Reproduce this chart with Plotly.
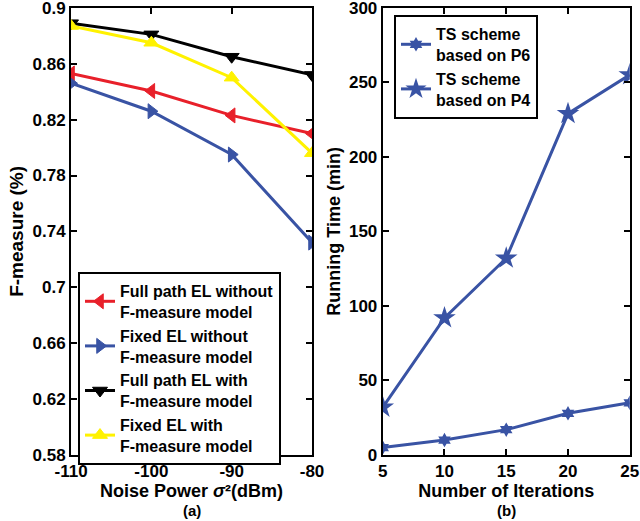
import plotly.graph_objects as go

# (a) F-measure vs noise power
noise_dbm = [-110, -100, -90, -80]
noise_labels = ['-110', '-100', '-90', '-80']
full_path_without = [0.853, 0.8405, 0.823, 0.810]
fixed_without = [0.846, 0.826, 0.795, 0.732]
full_path_with = [0.889, 0.881, 0.865, 0.852]
fixed_with = [0.887, 0.875, 0.850, 0.796]
f_ticks = [0.58, 0.62, 0.66, 0.70, 0.74, 0.78, 0.82, 0.86, 0.90]
f_tick_labels = ['0.58', '0.62', '0.66', '0.7', '0.74', '0.78', '0.82', '0.86', '0.9']

# (b) running time vs iterations
iterations = [5, 10, 15, 20, 25]
time_p6 = [5, 10, 17, 28, 35]
time_p4 = [32, 92, 132, 229, 255]
time_ticks = [0, 50, 100, 150, 200, 250, 300]

RED = '#E8202A'
BLUE = '#3953A4'
BLACK = '#000000'
YELLOW = '#FFF200'
FONT = 'Liberation Sans'

fig = go.Figure()

series_a = [
    (full_path_without, 'Full path EL without<br>F-measure model', RED, 'triangle-left'),
    (fixed_without, 'Fixed EL without<br>F-measure model', BLUE, 'triangle-right'),
    (full_path_with, 'Full path EL with<br>F-measure model', BLACK, 'triangle-down'),
    (fixed_with, 'Fixed EL with<br>F-measure model', YELLOW, 'triangle-up'),
]
for vals, name, col, sym in series_a:
    fig.add_trace(go.Scatter(
        x=noise_dbm, y=vals, name=name, mode='lines+markers',
        line=dict(color=col, width=3),
        marker=dict(symbol=sym, size=13, color=col, line=dict(color=col, width=1)),
        xaxis='x', yaxis='y', legend='legend'
    ))

fig.add_trace(go.Scatter(
    x=iterations, y=time_p6, name='TS scheme<br>based on P6', mode='lines+markers',
    line=dict(color=BLUE, width=3),
    marker=dict(symbol='hexagram', size=11, color=BLUE),
    xaxis='x2', yaxis='y2', legend='legend2'
))
fig.add_trace(go.Scatter(
    x=iterations, y=time_p4, name='TS scheme<br>based on P4', mode='lines+markers',
    line=dict(color=BLUE, width=3),
    marker=dict(symbol='star', size=17, color=BLUE),
    xaxis='x2', yaxis='y2', legend='legend2'
))

axis_common = dict(
    showline=True, linecolor='black', linewidth=2, mirror='allticks',
    ticks='inside', ticklen=6, tickcolor='black', tickwidth=1.5,
    showgrid=False, zeroline=False, automargin=False,
    ticklabeloverflow='allow',
    tickfont=dict(family=FONT, size=17, color='black', weight='bold'),
)

legend_common = dict(
    bgcolor='white', bordercolor='black', borderwidth=2,
    font=dict(family=FONT, size=16, color='black', weight='bold'),
    tracegroupgap=0, xanchor='left', yanchor='top',
)

fig.update_layout(
    width=640, height=521,
    margin=dict(l=0, r=0, t=0, b=0),
    paper_bgcolor='white', plot_bgcolor='white',
    font=dict(family=FONT, color='black'),
    xaxis=dict(domain=[0.111, 0.4875], range=[-110, -80], tickvals=noise_dbm,
               ticktext=noise_labels,
               title=dict(text='<b>Noise Power <i>σ</i>²(dBm)</b>',
                          font=dict(size=18), standoff=2),
               anchor='y', **axis_common),
    yaxis=dict(domain=[0.1267, 0.985], range=[0.58, 0.9], tickvals=f_ticks,
               ticktext=f_tick_labels,
               title=dict(text='<b>F-measure (%)</b>', font=dict(size=19), standoff=4),
               anchor='x', **axis_common),
    xaxis2=dict(domain=[0.598, 0.984], range=[5, 25], tickvals=iterations,
                title=dict(text='<b>Number of Iterations</b>', font=dict(size=18), standoff=2),
                anchor='y2', **axis_common),
    yaxis2=dict(domain=[0.1267, 0.985], range=[0, 300], tickvals=time_ticks,
                title=dict(text='<b>Running Time (min)</b>', font=dict(size=18), standoff=4),
                anchor='x2', **axis_common),
    legend=dict(x=78 / 640, y=1 - 272 / 521, **legend_common),
    legend2=dict(x=394 / 640, y=1 - 15 / 521, **legend_common),
    annotations=[
        dict(text='<b>(a)</b>', x=0.3, y=0, xref='paper', yref='paper',
             xanchor='center', yanchor='bottom', showarrow=False,
             font=dict(family=FONT, size=15)),
        dict(text='<b>(b)</b>', x=0.791, y=0, xref='paper', yref='paper',
             xanchor='center', yanchor='bottom', showarrow=False,
             font=dict(family=FONT, size=15)),
    ],
)

# page has a default 8px body margin; drop it so the figure sits at 0,0
fig.write_html('out.html', config={'displayModeBar': False},
               post_script="document.body.style.margin='0';")
